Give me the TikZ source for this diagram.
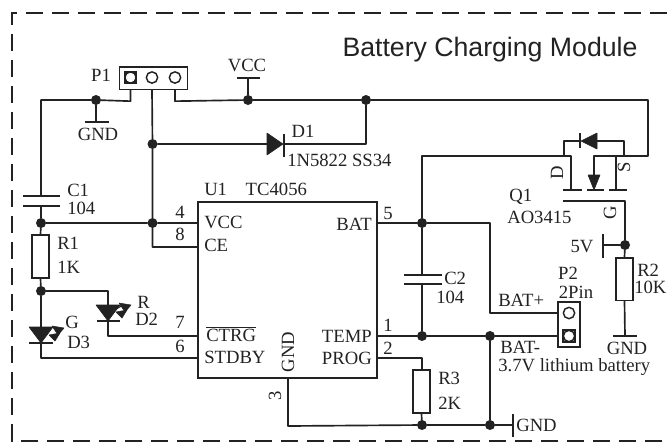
\documentclass[tikz,border=0pt]{standalone}
\usepackage{fontspec}
\setmainfont{Liberation Serif}
\newfontfamily\titlefont{Liberation Sans}
\usetikzlibrary{positioning}
\definecolor{ink}{HTML}{222222}
\tikzset{wire/.style={draw=ink,line width=1.25pt,line cap=round,line join=round},
         plate/.style={draw=ink,line width=1.4pt},
         dot/.style={circle,fill=ink,inner sep=0pt,minimum size=7.5pt},
         lab/.style={inner sep=0pt,text=ink,font=\fontsize{14}{16}\selectfont},
         rlab/.style={lab,rotate=90},
         res/.style={draw=ink,line width=1.25pt,fill=white,inner sep=0pt,minimum width=12.5pt,minimum height=32pt},
         pad/.style={circle,draw=ink,line width=1.1pt,inner sep=0pt,minimum size=8.5pt},
         head/.style={fill=ink,draw=ink,line width=.4pt,line join=round}}

\begin{document}
\begin{tikzpicture}[x=0.75pt,y=-0.75pt]
        \useasboundingbox (0,0) rectangle (667,444);
        \draw[ink,line width=1.6pt,dash pattern=on 13pt off 6.5pt](667,13)--(12,13)--(12,441)--(667,441);
        \node[lab,font=\titlefont\fontsize{20}{24}\selectfont](title)at(490,50){Battery Charging Module};

        % headers and chip
        \node[draw=ink,line width=1.25pt,minimum width=51pt,minimum height=17pt,inner sep=0pt](P1)at(153.5,78){};
        \node[draw=ink,line width=1.1pt,minimum size=8pt,inner sep=0pt](p1a)at(130.5,77.5){};
        \node[pad](p1pad)at(130.5,77.5){};
        \node[pad](p1b)at(152,77.5){};
        \node[pad](p1c)at(175,77.5){};
        \node[lab](lP1)at(101,75){P1};
        \node[draw=ink,line width=1.25pt,minimum width=134pt,minimum height=132pt,inner sep=0pt](U1)at(287.5,290){};
        \node[lab,anchor=west](lU1)at(204,189){U1\hspace{1em}TC4056};
        \node[lab,anchor=west](lVCCin)at(204,222){VCC};
        \node[lab,anchor=west](lCE)at(204,245){CE};
        \node[lab,anchor=west](lCTRG)at(206,334){$\overline{\mbox{CTRG}}$};
        \node[lab,anchor=west](lSTDBY)at(204,357){STDBY};
        \node[rlab](lGNDin)at(288,352){GND};
        \node[lab,anchor=east](lBAT)at(372,224){BAT};
        \node[lab,anchor=east](lTEMP)at(372,336){TEMP};
        \node[lab,anchor=east](lPROG)at(372,358){PROG};
        \node[lab](n4)at(180,212){4};
        \node[lab](n8)at(180,234){8};
        \node[lab](n7)at(180,322){7};
        \node[lab](n6)at(180,346){6};
        \node[rlab](n3)at(275,396){3};
        \node[lab](n5)at(388,213){5};
        \node[lab](n1)at(388,325){1};
        \node[lab](n2)at(388,348){2};

        % left side
        \node[dot](jGND)at(96,100){};
        \node[dot](jC1)at(41,223){};
        \node[dot](jR1)at(41,291){};
        \node[dot](jP1)at(152.5,223){};
        \node[dot](jD1)at(152.5,144){};
        \node[dot](jVCC)at(248,100){};
        \node[dot](jTop)at(366,100){};
        \coordinate(c1t)at(41,196);
        \coordinate(c1b)at(41,206);
        \coordinate(gndt)at(96,122);
        \coordinate(vcct)at(248,78);
        \draw[wire](P1.south-|p1a)--++(0,11)--(jGND)--(41,100)--(c1t);
        \draw[wire](jGND)--(gndt);
        \draw[plate](23,196)--(60,196);
        \draw[plate](23,206)--(60,206);
        \draw[plate](85,122)--(109,122);
        \draw[plate](237,78)--(260,78);
        \draw[wire](c1b)--(jC1);
        \draw[wire](jC1)--(jP1)--(198,223);
        \draw[wire](P1.south-|p1b)--(jD1)--(jP1)--(152.5,247)--(198,247);
        \draw[wire](P1.south-|p1c)--++(0,11)--(jVCC)--(jTop)--(648,100)--(648,156)--(594,156);
        \draw[wire](jVCC)--(vcct);
        \node[lab](lVCC)at(247,65){VCC};
        \node[lab](lGND1)at(98,134){GND};
        \node[lab,anchor=west](lC1)at(67,190){C1};
        \node[lab,anchor=west](lC1v)at(67,208){104};

        \node[res](R1)at(40.5,256.5){};
        \node[lab,anchor=west](lR1)at(57,243){R1};
        \node[lab,anchor=west](lR1v)at(57,267){1K};
        \draw[wire](jC1)--(R1.north);
        \draw[wire](R1.south)--(jR1)--(41,327);
        \draw[wire](jR1)--(108,291)--(108,305);

        % D1
        \coordinate(d1a)at(267,144);
        \coordinate(d1k)at(284,144);
        \draw[wire](jD1)--(d1a);
        \fill[head](d1a)++(0,-11)--(283,144)--(267,155)--cycle;
        \draw[plate](284,134)--(284,157);
        \draw[wire](d1k)--(366,144)--(jTop);
        \node[lab](lD1)at(303,131){D1};
        \node[lab,anchor=west](lD1v)at(287,160){1N5822 SS34};

        % LEDs
        \fill[head](96,305)--(120,305)--(108,321)--cycle;
        \draw[plate](97,321)--(120,321);
        \draw[wire](108,321)--(108,336)--(198,336);
        \draw[line width=.9pt,ink,fill=white](111,312)--(123,305);
        \fill[head](119,303)--(131,305)--(125,312)--cycle;
        \fill[head](116,312)--(127,310)--(122,318)--cycle;
        \node[lab,anchor=west](lR)at(137,302){R};
        \node[lab,anchor=west](lD2)at(135,319){D2};
        \fill[head](29,327)--(53,327)--(41,343)--cycle;
        \draw[plate](29,343)--(53,343);
        \draw[wire](41,343)--(41,358)--(198,358);
        \fill[head](52,326)--(64,328)--(58,335)--cycle;
        \fill[head](49,335)--(60,333)--(55,341)--cycle;
        \node[lab,anchor=west](lG)at(65,322){G};
        \node[lab,anchor=west](lD3)at(67,342){D3};

        % charge path
        \node[dot](jBAT)at(422,223){};
        \node[dot](jC2)at(422,336){};
        \node[dot](jBm)at(490,336){};
        \node[dot](jR3)at(422,425){};
        \node[dot](jGNDr)at(490,425){};
        \node[draw=ink,line width=1.25pt,minimum width=16.5pt,minimum height=33.5pt,inner sep=0pt](P2)at(569,324.5){};
        \node[draw=ink,line width=1.1pt,minimum size=9pt,inner sep=0pt](p2sq)at(569,336){};
        \node[pad](p2a)at(569,313){};
        \node[pad](p2b)at(569,336){};
        \coordinate(c2t)at(422,275);
        \coordinate(c2b)at(422,284);
        \draw[wire](377,223)--(jBAT)--(490,223)--(490,313)--(P2.west|-p2a);
        \draw[wire](jBAT)--(c2t);
        \draw[wire](jBAT)--(422,156)--(571,156)--(571,190);
        \draw[plate](404,275)--(442,275);
        \draw[plate](404,284)--(442,284);
        \draw[wire](c2b)--(jC2);
        \draw[wire](377,336)--(jC2)--(jBm)--(P2.west|-p2b);
        \draw[wire](jBm)--(jGNDr);
        \draw[wire](377,358)--(422,358)--(422,370);
        \node[res,minimum height=32pt](R3)at(421.5,391.5){};
        \draw[wire](R3.south)--(jR3);
        \coordinate(gndr)at(513,425);
        \draw[wire](288,378)--(288,426)--(jR3)--(jGNDr)--(gndr);
        \draw[plate](513,414)--(513,437);
        \node[lab,anchor=west](lGNDr)at(516,425){GND};
        \node[lab,anchor=west](lC2)at(444,278){C2};
        \node[lab,anchor=west](lC2v)at(436,297){104};
        \node[lab,anchor=west](lR3)at(438,378){R3};
        \node[lab,anchor=west](lR3v)at(438,403){2K};
        \node[lab](lP2)at(568,273){P2};
        \node[lab](lP2v)at(576,292){2Pin};
        \node[lab,anchor=west](lBp)at(498,300){BAT+};
        \node[lab,anchor=west](lBm)at(500,347){BAT-};
        \node[lab,anchor=west](lBatt)at(498,367){3.7V lithium battery};

        % Q1
        \draw[plate](563,190)--(582,190);
        \draw[plate](587,190)--(604,190);
        \draw[plate](609,190)--(627,190);
        \draw[plate](563,201)--(625,201);
        \draw[wire](594,156)--(594,176);
        \fill[head](588,175)--(600,175)--(594,190)--cycle;
        \draw[wire](616,156)--(616,190);
        \draw[wire](570,156)--(564,156)--(564,141)--(580,141);
        \fill[head](597,133)--(597,149)--(581,141)--cycle;
        \draw[plate](580,133)--(580,148);
        \draw[wire](597,141)--(624,141)--(624,156);
        \node[rlab](lD)at(557,173){D};
        \node[rlab](lS)at(624,167){S};
        \node[rlab](lGg)at(610,213){G};
        \node[lab,anchor=west](lQ1)at(509,197){Q1};
        \node[lab,anchor=west](lQ1v)at(507,217){AO3415};
        \node[dot](jG)at(625,245){};
        \node[res,minimum height=32pt](R2)at(624.5,279){};
        \draw[wire](625,201)--(jG)--(R2.north);
        \draw[wire](jG)--(603,245);
        \draw[plate](603,234)--(603,258);
        \node[lab](l5V)at(582,247){5V};
        \draw[wire](R2.south)--(625,336);
        \draw[plate](613,336)--(637,336);
        \node[lab](lGND2)at(627,348){GND};
        \node[lab,anchor=west](lR2)at(637,270){R2};
        \node[lab,anchor=west](lR2v)at(634,287){10K};
\end{tikzpicture}
\end{document}
